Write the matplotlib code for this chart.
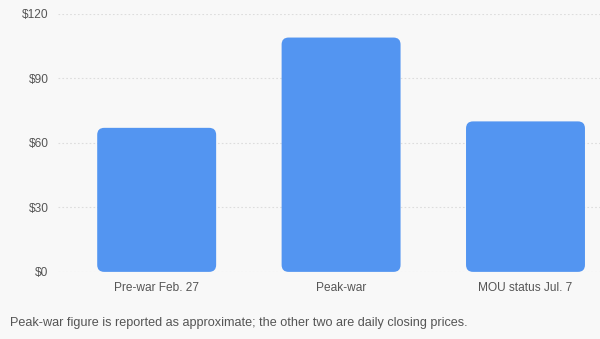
import matplotlib
matplotlib.use("Agg")
import matplotlib.pyplot as plt
from matplotlib.patches import FancyBboxPatch

categories = ["Pre-war Feb. 27", "Peak-war", "MOU status Jul. 7"]
prices = [67, 109, 70]
yticks = [0, 30, 60, 90, 120]
ytick_labels = ["$0", "$30", "$60", "$90", "$120"]
note = "Peak-war figure is reported as approximate; the other two are daily closing prices."

plt.rcParams["font.family"] = ["Liberation Sans", "DejaVu Sans"]

bg = "#f8f8f8"
fig = plt.figure(figsize=(6, 3.39), dpi=100, facecolor=bg)
ax = fig.add_axes([0.097, 0.198, 0.903, 0.761], facecolor=bg)

xpos = list(range(len(categories)))
bars = ax.bar(xpos, prices, width=0.645, color="#5597f1")

ax.set_xlim(-0.534, 2.404)
ax.set_ylim(0, 120)

# swap plain rectangles for rounded ones, sized from the bar geometry
px_x = fig.bbox.width * 0.903 / (2.404 + 0.534)
px_y = fig.bbox.height * 0.761 / 120
for b in bars:
    x, y = b.get_xy()
    w, h = b.get_width(), b.get_height()
    b.set_visible(False)
    r = 7 / px_x
    patch = FancyBboxPatch((x, y), w, h,
                           boxstyle=f"round,pad=0,rounding_size={r}",
                           mutation_aspect=px_x / px_y,
                           facecolor="#5395f1", edgecolor="none", zorder=3)
    ax.add_patch(patch)

ax.set_yticks(yticks)
ax.set_yticklabels(ytick_labels)
ax.set_xticks(xpos)
ax.set_xticklabels(categories)
ax.tick_params(axis="both", length=0, labelsize=8.6, colors="#555555")
ax.tick_params(axis="y", pad=7)
ax.tick_params(axis="x", pad=7)

ax.yaxis.grid(True, linestyle=(0, (1.5, 2)), color="#dddddd", linewidth=0.8)
ax.set_axisbelow(True)
for s in ax.spines.values():
    s.set_visible(False)

fig.text(10 / 600, 1 - 323 / 339, note, fontsize=9.1, color="#555555",
         ha="left", va="center")

fig.savefig("out.png", dpi=100, facecolor=bg)
